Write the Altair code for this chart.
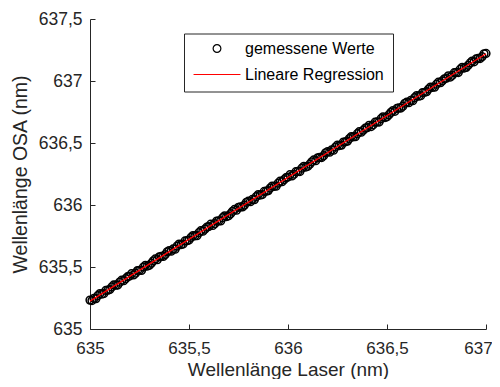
import altair as alt
import pandas as pd

# ---- data ----
x_laser = [
    635.00, 635.01, 635.02, 635.03, 635.04, 635.05, 635.06, 635.07, 635.08, 635.09,
    635.10, 635.11, 635.12, 635.13, 635.14, 635.15, 635.16, 635.17, 635.18, 635.19,
    635.20, 635.21, 635.22, 635.23, 635.24, 635.25, 635.26, 635.27, 635.28, 635.29,
    635.30, 635.31, 635.32, 635.33, 635.34, 635.35, 635.36, 635.37, 635.38, 635.39,
    635.40, 635.41, 635.42, 635.43, 635.44, 635.45, 635.46, 635.47, 635.48, 635.49,
    635.50, 635.51, 635.52, 635.53, 635.54, 635.55, 635.56, 635.57, 635.58, 635.59,
    635.60, 635.61, 635.62, 635.63, 635.64, 635.65, 635.66, 635.67, 635.68, 635.69,
    635.70, 635.71, 635.72, 635.73, 635.74, 635.75, 635.76, 635.77, 635.78, 635.79,
    635.80, 635.81, 635.82, 635.83, 635.84, 635.85, 635.86, 635.87, 635.88, 635.89,
    635.90, 635.91, 635.92, 635.93, 635.94, 635.95, 635.96, 635.97, 635.98, 635.99,
    636.00, 636.01, 636.02, 636.03, 636.04, 636.05, 636.06, 636.07, 636.08, 636.09,
    636.10, 636.11, 636.12, 636.13, 636.14, 636.15, 636.16, 636.17, 636.18, 636.19,
    636.20, 636.21, 636.22, 636.23, 636.24, 636.25, 636.26, 636.27, 636.28, 636.29,
    636.30, 636.31, 636.32, 636.33, 636.34, 636.35, 636.36, 636.37, 636.38, 636.39,
    636.40, 636.41, 636.42, 636.43, 636.44, 636.45, 636.46, 636.47, 636.48, 636.49,
    636.50, 636.51, 636.52, 636.53, 636.54, 636.55, 636.56, 636.57, 636.58, 636.59,
    636.60, 636.61, 636.62, 636.63, 636.64, 636.65, 636.66, 636.67, 636.68, 636.69,
    636.70, 636.71, 636.72, 636.73, 636.74, 636.75, 636.76, 636.77, 636.78, 636.79,
    636.80, 636.81, 636.82, 636.83, 636.84, 636.85, 636.86, 636.87, 636.88, 636.89,
    636.90, 636.91, 636.92, 636.93, 636.94, 636.95, 636.96, 636.97, 636.98, 636.99,
    637.00,
]
y_osa = [
    635.233, 635.229, 635.247, 635.245, 635.270, 635.286, 635.282, 635.286, 635.311, 635.313,
    635.318, 635.339, 635.355, 635.353, 635.354, 635.378, 635.394, 635.390, 635.406, 635.422,
    635.427, 635.446, 635.436, 635.450, 635.471, 635.473, 635.472, 635.499, 635.514, 635.508,
    635.514, 635.531, 635.550, 635.565, 635.559, 635.582, 635.586, 635.585, 635.600, 635.623,
    635.632, 635.628, 635.646, 635.644, 635.669, 635.685, 635.681, 635.685, 635.710, 635.712,
    635.717, 635.738, 635.754, 635.752, 635.753, 635.777, 635.793, 635.789, 635.805, 635.821,
    635.826, 635.845, 635.835, 635.849, 635.870, 635.872, 635.871, 635.898, 635.913, 635.907,
    635.913, 635.930, 635.949, 635.964, 635.958, 635.981, 635.985, 635.984, 635.999, 636.022,
    636.031, 636.027, 636.045, 636.043, 636.068, 636.084, 636.080, 636.084, 636.109, 636.111,
    636.116, 636.137, 636.153, 636.151, 636.152, 636.176, 636.192, 636.188, 636.204, 636.220,
    636.225, 636.244, 636.234, 636.248, 636.269, 636.271, 636.270, 636.297, 636.312, 636.306,
    636.312, 636.329, 636.348, 636.363, 636.357, 636.380, 636.384, 636.383, 636.398, 636.421,
    636.430, 636.426, 636.444, 636.442, 636.467, 636.483, 636.479, 636.483, 636.508, 636.510,
    636.515, 636.536, 636.552, 636.550, 636.551, 636.575, 636.591, 636.587, 636.603, 636.619,
    636.624, 636.643, 636.633, 636.647, 636.668, 636.670, 636.669, 636.696, 636.711, 636.705,
    636.711, 636.728, 636.747, 636.762, 636.756, 636.779, 636.783, 636.782, 636.797, 636.820,
    636.829, 636.825, 636.843, 636.841, 636.866, 636.882, 636.878, 636.882, 636.907, 636.909,
    636.914, 636.935, 636.951, 636.949, 636.950, 636.974, 636.990, 636.986, 637.002, 637.018,
    637.023, 637.042, 637.032, 637.046, 637.067, 637.069, 637.068, 637.095, 637.110, 637.104,
    637.110, 637.127, 637.146, 637.161, 637.155, 637.178, 637.182, 637.181, 637.196, 637.219,
    637.222,
]
fit_x = [635.0, 637.0]
fit_y = [635.225, 637.220]
series_names = ["gemessene Werte", "Lineare Regression"]
x_ticks = [635, 635.5, 636, 636.5, 637]
y_ticks = [635, 635.5, 636, 636.5, 637, 637.5]

pts = pd.DataFrame({"x": x_laser, "y": y_osa, "s": series_names[0]})
fit = pd.DataFrame({"x": fit_x, "y": fit_y, "s": series_names[1]})

W, H = 396, 310
AX = "#262626"
FONT = "Liberation Sans"
LBL = "replace(format(datum.value, '~g'), '.', ',')"

xscale = alt.Scale(domain=[635, 637], nice=False, zero=False)
yscale = alt.Scale(domain=[635, 637.5], nice=False, zero=False)

legend = alt.Legend(
    title=None, orient="none", legendX=94, legendY=14.5,
    direction="vertical", columns=1,
    strokeColor=AX, fillColor="white", padding=8.5,
    labelFont=FONT, labelFontSize=16, labelColor="black", labelOffset=3.5,
    symbolStrokeWidth=1.2, symbolOpacity=1, clipHeight=13, rowPadding=9,
)
color = alt.Color("s:N", scale=alt.Scale(domain=series_names, range=["black", "#ff0000"]), legend=legend)
shape = alt.Shape("s:N", scale=alt.Scale(domain=series_names, range=["circle", "stroke"]), legend=legend)
size = alt.Size("s:N", scale=alt.Scale(domain=series_names, range=[60, 2200]), legend=legend)

points = alt.Chart(pts).mark_point(filled=False, strokeWidth=1.5, opacity=1).encode(
    x=alt.X("x:Q", scale=xscale, axis=alt.Axis(
        orient="bottom", values=x_ticks, labelExpr=LBL, ticks=False, grid=False,
        labelFlush=False, labelOverlap=False,
        labelOffset={"condition": {"test": "datum.value >= 637", "value": -8}, "value": 0},
        domainColor=AX, domainWidth=1, labelColor=AX, labelFont=FONT, labelFontSize=17,
        labelPadding=11, title="Wellenlänge Laser (nm)", titleFont=FONT, titleFontSize=19,
        titleFontWeight="normal", titleColor=AX, titleBaseline="alphabetic", titleY=46)),
    y=alt.Y("y:Q", scale=yscale, axis=alt.Axis(
        orient="left", values=y_ticks, labelExpr=LBL, ticks=False, grid=False,
        labelFlush=False, labelOverlap=False,
        domainColor=AX, domainWidth=1, labelColor=AX, labelFont=FONT, labelFontSize=17.5,
        labelPadding=8, title="Wellenlänge OSA (nm)", titleFont=FONT, titleFontSize=19.5,
        titleFontWeight="normal", titleColor=AX, titlePadding=8)),
    color=color, shape=shape, size=size,
)

line = alt.Chart(fit).mark_line(strokeWidth=1.4, opacity=1).encode(
    x=alt.X("x:Q", scale=xscale, axis=alt.Axis(
        orient="top", offset=-H, values=x_ticks, labels=False, domain=False, grid=False,
        ticks=True, tickSize=5, tickColor=AX, tickWidth=1, title=None)),
    y=alt.Y("y:Q", scale=yscale, axis=alt.Axis(
        orient="right", offset=-W, values=y_ticks, labels=False, domain=False, grid=False,
        ticks=True, tickSize=5, tickColor=AX, tickWidth=1, title=None)),
    color=color,
)

chart = alt.layer(points, line).properties(
    width=W, height=H,
    autosize=alt.AutoSizeParams(type="none"),
    padding={"left": 82, "top": 11, "right": 6, "bottom": 50},
    background="white",
).configure_view(stroke=None)

chart.save("out.html", embed_options={"renderer": "svg", "actions": False})
